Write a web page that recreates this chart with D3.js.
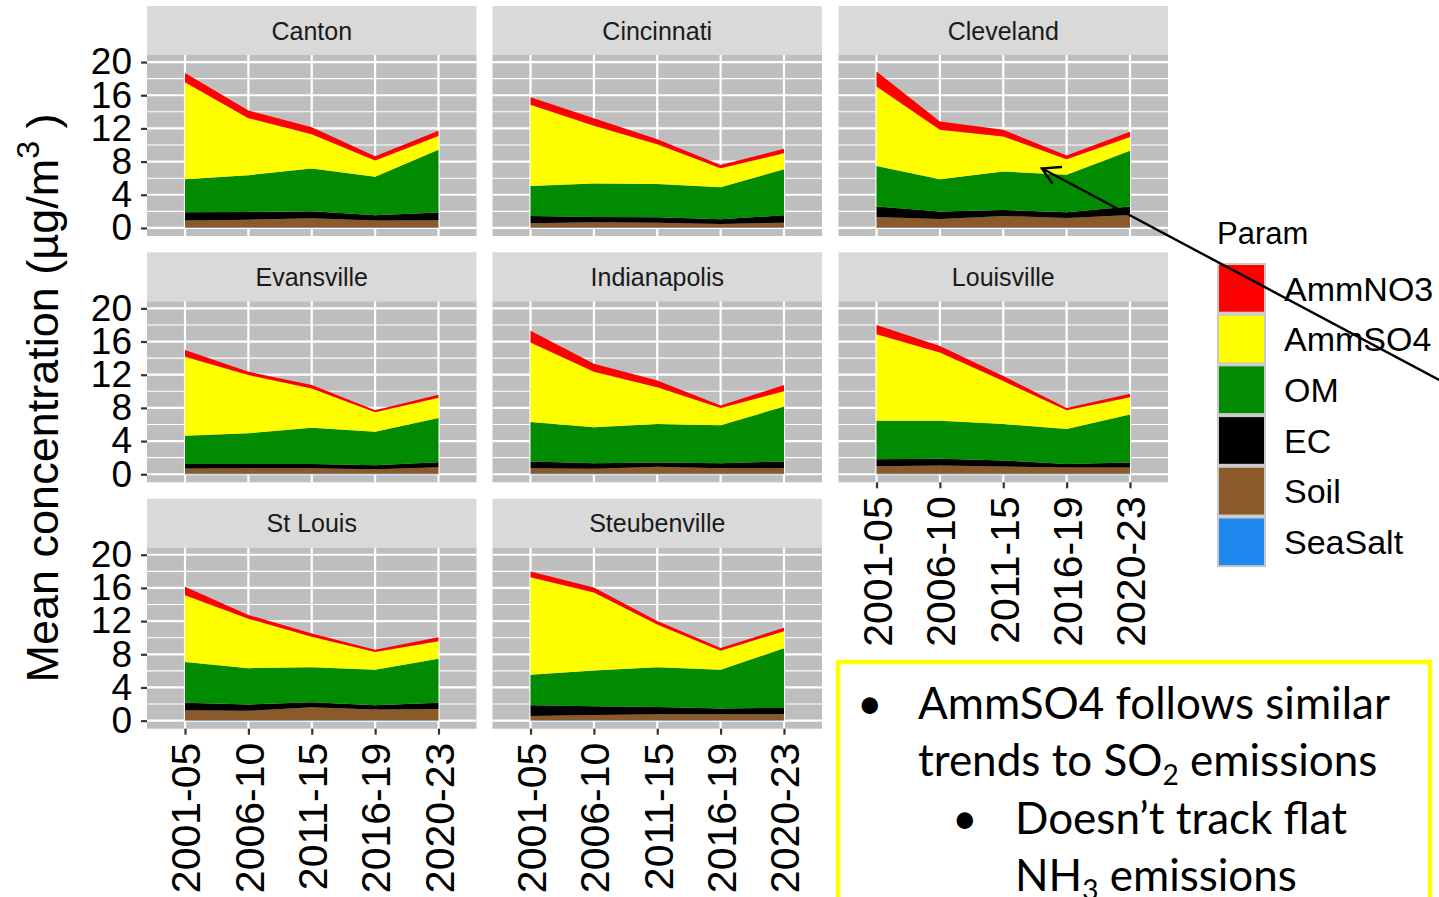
<!DOCTYPE html>
<html>
<head>
<meta charset="utf-8">
<script src="https://cdn.jsdelivr.net/npm/d3@7/dist/d3.min.js"></script>
<style>
  html, body { margin: 0; padding: 0; background: #fff; }
  svg { display: block; }
</style>
</head>
<body>
<svg id="chart" width="1439" height="897"></svg>
<script>
// Facet labels and periods
const cities = ["Canton", "Cincinnati", "Cleveland", "Evansville", "Indianapolis", "Louisville", "St Louis", "Steubenville"];
const periods = ["2001-05", "2006-10", "2011-15", "2016-19", "2020-23"];
const yTicks = [0, 4, 8, 12, 16, 20];
const yMinor = [2, 6, 10, 14, 18];

// Mean concentration (µg/m3) per city (rows, in city order) and period (columns)
const AmmNO3 = [
  [1.12, 0.92, 0.84, 0.52, 0.61],
  [0.92, 0.93, 0.60, 0.40, 0.53],
  [1.81, 1.01, 0.80, 0.44, 0.64],
  [0.81, 0.40, 0.41, 0.25, 0.37],
  [1.41, 0.97, 0.81, 0.28, 0.73],
  [1.09, 0.80, 0.61, 0.28, 0.41],
  [1.02, 0.45, 0.41, 0.28, 0.49],
  [0.69, 0.60, 0.41, 0.32, 0.41]
];
const AmmSO4 = [
  [11.67, 6.88, 4.15, 1.97, 1.68],
  [9.78, 6.96, 4.79, 2.29, 1.93],
  [9.58, 5.95, 4.23, 1.89, 1.65],
  [9.53, 7.03, 4.72, 2.34, 2.42],
  [9.58, 6.70, 4.44, 2.10, 1.86],
  [10.43, 8.21, 5.17, 2.27, 2.10],
  [8.07, 5.96, 3.65, 2.15, 2.11],
  [11.76, 9.42, 5.15, 2.31, 2.07]
];
const OM = [
  [3.99, 4.43, 5.15, 4.63, 7.57],
  [3.62, 4.02, 4.02, 3.86, 5.55],
  [4.90, 3.91, 4.63, 4.51, 6.72],
  [3.40, 3.68, 4.37, 4.04, 5.34],
  [4.76, 4.33, 4.65, 4.57, 6.62],
  [4.64, 4.60, 4.40, 4.20, 5.78],
  [4.91, 4.38, 4.22, 4.26, 5.31],
  [3.65, 4.30, 4.79, 4.67, 7.18]
];
const EC = [
  [1.00, 0.93, 0.84, 0.64, 0.92],
  [0.89, 0.65, 0.65, 0.57, 0.89],
  [1.25, 0.88, 0.72, 0.68, 1.01],
  [0.56, 0.52, 0.52, 0.48, 0.60],
  [0.81, 0.68, 0.52, 0.60, 0.81],
  [0.85, 0.81, 0.73, 0.44, 0.60],
  [0.89, 0.77, 0.61, 0.53, 0.73],
  [1.30, 1.05, 0.89, 0.69, 0.77]
];
const Soil = [
  [0.84, 0.95, 1.12, 0.84, 0.88],
  [0.51, 0.63, 0.59, 0.43, 0.59],
  [1.28, 1.04, 1.40, 1.16, 1.52],
  [0.64, 0.68, 0.68, 0.56, 0.80],
  [0.68, 0.60, 0.84, 0.68, 0.68],
  [0.92, 1.00, 0.88, 0.76, 0.76],
  [1.21, 1.13, 1.57, 1.29, 1.37],
  [0.52, 0.64, 0.72, 0.72, 0.72]
];
const SeaSalt = [
  [0.05, 0.05, 0.05, 0.05, 0.05],
  [0.05, 0.05, 0.05, 0.05, 0.05],
  [0.05, 0.05, 0.05, 0.05, 0.05],
  [0.05, 0.05, 0.05, 0.05, 0.05],
  [0.05, 0.05, 0.05, 0.05, 0.05],
  [0.05, 0.05, 0.05, 0.05, 0.05],
  [0.05, 0.05, 0.05, 0.05, 0.05],
  [0.05, 0.05, 0.05, 0.05, 0.05]
];

const legendParams = ["AmmNO3", "AmmSO4", "OM", "EC", "Soil", "SeaSalt"];
const stackOrder = ["SeaSalt", "Soil", "EC", "OM", "AmmSO4", "AmmNO3"];
const seriesByParam = { AmmNO3, AmmSO4, OM, EC, Soil, SeaSalt };
const paramColors = {
  AmmNO3: "#FF0000", AmmSO4: "#FFFF00", OM: "#008B00",
  EC: "#000000", Soil: "#8B5A2B", SeaSalt: "#1E88EE"
};

const svg = d3.select("#chart");
const FONT = "'Liberation Sans', Arial, Helvetica, sans-serif";

// Facet grid geometry
const colX = [147, 492.5, 838.5];
const rowTop = [6, 252.3, 498.7];
const panelW = 329.5, stripH = 49, panelH = 181;

const x = d3.scalePoint().domain(periods).range([0, panelW]).padding(0.6);
const y = d3.scaleLinear().domain([-0.97, 20.85]).range([panelH, 0]);

const stack = d3.stack().keys(stackOrder);
const area = d3.area()
  .x(d => x(d.data.period))
  .y0(d => y(d[0]))
  .y1(d => y(d[1]));

cities.forEach((city, ci) => {
  const col = ci % 3, row = Math.floor(ci / 3);
  const g = svg.append("g").attr("transform", `translate(${colX[col]},${rowTop[row]})`);

  // strip
  g.append("rect").attr("width", panelW).attr("height", stripH).attr("fill", "#D9D9D9");
  g.append("text")
    .attr("x", panelW / 2).attr("y", stripH / 2)
    .attr("dy", "0.36em")
    .attr("text-anchor", "middle")
    .attr("font-family", FONT).attr("font-size", 25).attr("fill", "#1A1A1A")
    .text(city);

  const p = g.append("g").attr("transform", `translate(0,${stripH})`);
  p.append("rect").attr("width", panelW).attr("height", panelH).attr("fill", "#BEBEBE");

  // grid
  p.selectAll(".minor").data(yMinor).join("line")
    .attr("x1", 0).attr("x2", panelW)
    .attr("y1", d => y(d)).attr("y2", d => y(d))
    .attr("stroke", "#FFFFFF").attr("stroke-width", 1.1);
  p.selectAll(".major").data(yTicks).join("line")
    .attr("x1", 0).attr("x2", panelW)
    .attr("y1", d => y(d)).attr("y2", d => y(d))
    .attr("stroke", "#FFFFFF").attr("stroke-width", 2.2);
  p.selectAll(".vmajor").data(periods).join("line")
    .attr("x1", d => x(d)).attr("x2", d => x(d))
    .attr("y1", 0).attr("y2", panelH)
    .attr("stroke", "#FFFFFF").attr("stroke-width", 2.2);

  // stacked areas
  const rows = periods.map((period, pi) => {
    const r = { period };
    stackOrder.forEach(k => { r[k] = seriesByParam[k][ci][pi]; });
    return r;
  });
  const layers = stack(rows);
  p.selectAll(".layer").data(layers).join("path")
    .attr("d", area)
    .attr("fill", d => paramColors[d.key]);

  // y axis on first column
  if (col === 0) {
    const ya = p.append("g").call(
      d3.axisLeft(y).tickValues(yTicks).tickSize(6).tickPadding(9)
    );
    ya.select(".domain").remove();
    ya.selectAll("line").attr("stroke", "#333333").attr("stroke-width", 2.2);
    ya.selectAll("text")
      .attr("font-family", FONT).attr("font-size", 37).attr("fill", "#000");
  }

  // x axis on the lowest panel of each column
  const lastInCol = (ci + 3 >= cities.length);
  if (lastInCol) {
    const xa = p.append("g").attr("transform", `translate(0,${panelH})`).call(
      d3.axisBottom(x).tickSize(6)
    );
    xa.select(".domain").remove();
    xa.selectAll("line").attr("stroke", "#333333").attr("stroke-width", 2.2);
    xa.selectAll("text")
      .attr("font-family", FONT).attr("font-size", 41).attr("fill", "#000")
      .attr("transform", "rotate(-90)")
      .attr("text-anchor", "end")
      .attr("x", -14).attr("y", 0).attr("dy", "0.36em");
  }
});

// y axis title
const yt = svg.append("text")
  .attr("transform", "translate(58,398) rotate(-90)")
  .attr("text-anchor", "middle")
  .attr("font-family", FONT).attr("font-size", 45).attr("fill", "#000");
yt.append("tspan").text("Mean concentration (µg/m");
yt.append("tspan").attr("font-size", 32).attr("dy", -19).text("3");
yt.append("tspan").attr("dy", 19).text(" )");

// legend
const lg = svg.append("g").attr("transform", "translate(1217,0)");
lg.append("text").attr("x", 0).attr("y", 244)
  .attr("font-family", FONT).attr("font-size", 31).attr("fill", "#000").text("Param");
const keyH = 50.7;
const keys = lg.selectAll(".key").data(legendParams).join("g")
  .attr("transform", (d, i) => `translate(0,${263 + i * keyH})`);
keys.append("rect").attr("width", 49).attr("height", keyH).attr("fill", "#C8C8C8");
keys.append("rect").attr("x", 2).attr("y", 2).attr("width", 45).attr("height", keyH - 4)
  .attr("fill", d => paramColors[d]);
keys.append("text").attr("x", 67).attr("y", keyH / 2).attr("dy", "0.36em")
  .attr("font-family", FONT).attr("font-size", 34).attr("fill", "#000")
  .text(d => d);

// callout arrow
const arrow = svg.append("g").attr("stroke", "#000").attr("stroke-width", 2.4)
  .attr("fill", "none").attr("stroke-linecap", "round");
arrow.append("line").attr("x1", 1460).attr("y1", 391).attr("x2", 1042).attr("y2", 168.5);
arrow.append("polyline").attr("points", "1061,167 1042,168.5 1052,183");

// note box
const TFONT = "Lato, 'Open Sans', sans-serif";
svg.append("rect").attr("x", 838).attr("y", 662).attr("width", 592).attr("height", 260)
  .attr("fill", "#fff").attr("stroke", "#FFFF00").attr("stroke-width", 4.5);
const note = svg.append("g").attr("font-family", TFONT).attr("font-size", 44).attr("fill", "#000");
note.append("text").attr("x", 857).attr("y", 719).text("•");
note.append("text").attr("x", 918).attr("y", 719).text("AmmSO4 follows similar");
const l2 = note.append("text").attr("x", 918).attr("y", 776);
l2.append("tspan").text("trends to SO");
l2.append("tspan").attr("font-size", 28).attr("dy", 9).text("2");
l2.append("tspan").attr("dy", -9).text(" emissions");
note.append("text").attr("x", 952).attr("y", 834).text("•");
note.append("text").attr("x", 1015).attr("y", 834).text("Doesn\u2019t track flat");
const l4 = note.append("text").attr("x", 1015).attr("y", 891);
l4.append("tspan").text("NH");
l4.append("tspan").attr("font-size", 28).attr("dy", 9).text("3");
l4.append("tspan").attr("dy", -9).text(" emissions");
</script>
</body>
</html>
